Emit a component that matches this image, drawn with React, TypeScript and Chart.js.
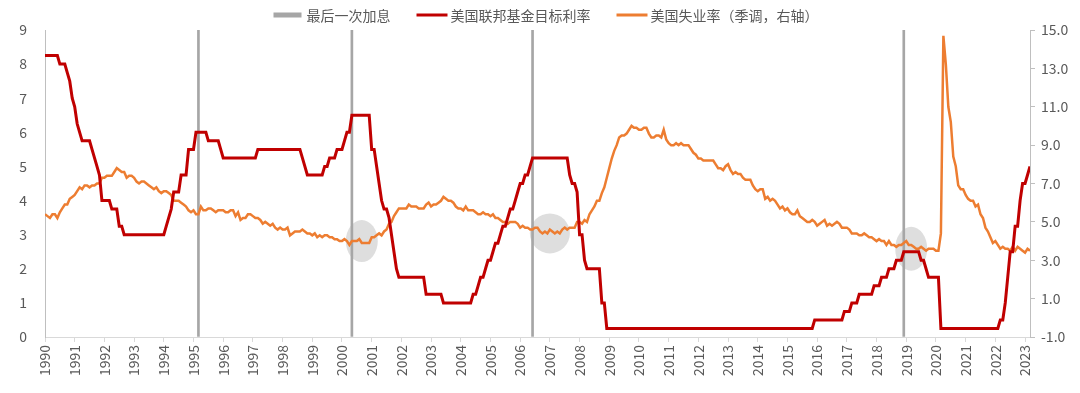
import React, { useEffect, useRef } from 'react';
import { Chart, registerables } from 'chart.js';

Chart.register(...registerables);

// ---------- data ----------
const yearLabels = [
  '1990', '1991', '1992', '1993', '1994', '1995', '1996', '1997', '1998', '1999',
  '2000', '2001', '2002', '2003', '2004', '2005', '2006', '2007', '2008', '2009',
  '2010', '2011', '2012', '2013', '2014', '2015', '2016', '2017', '2018', '2019',
  '2020', '2021', '2022', '2023',
];

// US unemployment rate, seasonally adjusted, monthly from 1990-01 to 2023-03 (right axis)
const unemploymentRate = [
  5.4, 5.3, 5.2, 5.4, 5.4, 5.2, 5.5, 5.7, 5.9, 5.9, 6.2, 6.3,
  6.4, 6.6, 6.8, 6.7, 6.9, 6.9, 6.8, 6.9, 6.9, 7.0, 7.0, 7.3,
  7.3, 7.4, 7.4, 7.4, 7.6, 7.8, 7.7, 7.6, 7.6, 7.3, 7.4, 7.4,
  7.3, 7.1, 7.0, 7.1, 7.1, 7.0, 6.9, 6.8, 6.7, 6.8, 6.6, 6.5,
  6.6, 6.6, 6.5, 6.4, 6.1, 6.1, 6.1, 6.0, 5.9, 5.8, 5.6, 5.5,
  5.6, 5.4, 5.4, 5.8, 5.6, 5.6, 5.7, 5.7, 5.6, 5.5, 5.6, 5.6,
  5.6, 5.5, 5.5, 5.6, 5.6, 5.3, 5.5, 5.1, 5.2, 5.2, 5.4, 5.4,
  5.3, 5.2, 5.2, 5.1, 4.9, 5.0, 4.9, 4.8, 4.9, 4.7, 4.6, 4.7,
  4.6, 4.6, 4.7, 4.3, 4.4, 4.5, 4.5, 4.5, 4.6, 4.5, 4.4, 4.4,
  4.3, 4.4, 4.2, 4.3, 4.2, 4.3, 4.3, 4.2, 4.2, 4.1, 4.1, 4.0,
  4.0, 4.1, 4.0, 3.8, 4.0, 4.0, 4.0, 4.1, 3.9, 3.9, 3.9, 3.9,
  4.2, 4.2, 4.3, 4.4, 4.3, 4.5, 4.6, 4.9, 5.0, 5.3, 5.5, 5.7,
  5.7, 5.7, 5.7, 5.9, 5.8, 5.8, 5.8, 5.7, 5.7, 5.7, 5.9, 6.0,
  5.8, 5.9, 5.9, 6.0, 6.1, 6.3, 6.2, 6.1, 6.1, 6.0, 5.8, 5.7,
  5.7, 5.6, 5.8, 5.6, 5.6, 5.6, 5.5, 5.4, 5.4, 5.5, 5.4, 5.4,
  5.3, 5.4, 5.2, 5.2, 5.1, 5.0, 5.0, 4.9, 5.0, 5.0, 5.0, 4.9,
  4.7, 4.8, 4.7, 4.7, 4.6, 4.6, 4.7, 4.7, 4.5, 4.4, 4.5, 4.4,
  4.6, 4.5, 4.4, 4.5, 4.4, 4.6, 4.7, 4.6, 4.7, 4.7, 4.7, 5.0,
  5.0, 4.9, 5.1, 5.0, 5.4, 5.6, 5.8, 6.1, 6.1, 6.5, 6.8, 7.3,
  7.8, 8.3, 8.7, 9.0, 9.4, 9.5, 9.5, 9.6, 9.8, 10.0, 9.9, 9.9,
  9.8, 9.8, 9.9, 9.9, 9.6, 9.4, 9.4, 9.5, 9.5, 9.4, 9.8, 9.3,
  9.1, 9.0, 9.0, 9.1, 9.0, 9.1, 9.0, 9.0, 9.0, 8.8, 8.6, 8.5,
  8.3, 8.3, 8.2, 8.2, 8.2, 8.2, 8.2, 8.0, 7.8, 7.8, 7.7, 7.9,
  8.0, 7.7, 7.5, 7.6, 7.5, 7.5, 7.3, 7.2, 7.2, 7.2, 6.9, 6.7,
  6.6, 6.7, 6.7, 6.2, 6.3, 6.1, 6.2, 6.1, 5.9, 5.7, 5.8, 5.6,
  5.7, 5.5, 5.4, 5.4, 5.6, 5.3, 5.2, 5.1, 5.0, 5.0, 5.1, 5.0,
  4.8, 4.9, 5.0, 5.1, 4.8, 4.9, 4.8, 4.9, 5.0, 4.9, 4.7, 4.7,
  4.7, 4.6, 4.4, 4.4, 4.4, 4.3, 4.3, 4.4, 4.3, 4.2, 4.2, 4.1,
  4.0, 4.1, 4.0, 4.0, 3.8, 4.0, 3.8, 3.8, 3.7, 3.8, 3.8, 3.9,
  4.0, 3.8, 3.8, 3.7, 3.6, 3.6, 3.7, 3.6, 3.5, 3.6, 3.6, 3.6,
  3.5, 3.5, 4.4, 14.7, 13.2, 11.0, 10.2, 8.4, 7.9, 6.9, 6.7, 6.7,
  6.4, 6.2, 6.1, 6.1, 5.8, 5.9, 5.4, 5.2, 4.7, 4.5, 4.2, 3.9,
  4.0, 3.8, 3.6, 3.7, 3.6, 3.6, 3.5, 3.7, 3.5, 3.7, 3.6, 3.5,
  3.4, 3.6, 3.5,
];

// Fed funds target rate (upper bound): month of each change and the new level (left axis)
const fedChangeMonths = [
  '1990-01', '1990-07', '1990-10', '1990-11', '1990-12', '1991-01', '1991-02', '1991-03',
  '1991-04', '1991-08', '1991-09', '1991-10', '1991-11', '1991-12', '1992-04', '1992-07',
  '1992-09', '1994-02', '1994-03', '1994-04', '1994-05', '1994-08', '1994-11', '1995-02',
  '1995-07', '1995-12', '1996-01', '1997-03', '1998-09', '1998-10', '1998-11', '1999-06',
  '1999-08', '1999-11', '2000-02', '2000-03', '2000-05', '2001-01', '2001-03', '2001-04',
  '2001-05', '2001-06', '2001-08', '2001-09', '2001-10', '2001-11', '2001-12', '2002-11',
  '2003-06', '2004-06', '2004-08', '2004-09', '2004-11', '2004-12', '2005-02', '2005-03',
  '2005-05', '2005-06', '2005-08', '2005-09', '2005-11', '2005-12', '2006-01', '2006-03',
  '2006-05', '2006-06', '2007-09', '2007-10', '2007-12', '2008-01', '2008-03', '2008-04',
  '2008-10', '2008-12', '2015-12', '2016-12', '2017-03', '2017-06', '2017-12', '2018-03',
  '2018-06', '2018-09', '2018-12', '2019-07', '2019-09', '2019-10', '2020-03', '2022-03',
  '2022-05', '2022-06', '2022-07', '2022-09', '2022-11', '2022-12', '2023-02', '2023-03',
];
const fedChangeValues = [
  8.25, 8.0, 7.75, 7.5, 7.0, 6.75, 6.25, 6.0,
  5.75, 5.5, 5.25, 5.0, 4.75, 4.0, 3.75, 3.25,
  3.0, 3.25, 3.5, 3.75, 4.25, 4.75, 5.5, 6.0,
  5.75, 5.5, 5.25, 5.5, 5.25, 5.0, 4.75, 5.0,
  5.25, 5.5, 5.75, 6.0, 6.5, 5.5, 5.0, 4.5,
  4.0, 3.75, 3.5, 3.0, 2.5, 2.0, 1.75, 1.25,
  1.0, 1.25, 1.5, 1.75, 2.0, 2.25, 2.5, 2.75,
  3.0, 3.25, 3.5, 3.75, 4.0, 4.25, 4.5, 4.75,
  5.0, 5.25, 4.75, 4.5, 4.25, 3.0, 2.25, 2.0,
  1.0, 0.25, 0.5, 0.75, 1.0, 1.25, 1.5, 1.75,
  2.0, 2.25, 2.5, 2.25, 2.0, 1.75, 0.25, 0.5,
  1.0, 1.75, 2.5, 3.25, 4.0, 4.5, 4.75, 5.0,
];

// Last hike of each cycle (grey vertical bars)
const lastHikeMonths = ['1995-03', '2000-05', '2006-06', '2018-12'];
const lastHikeHeight = 9;

// Grey highlight ellipses (centre month, unemployment level on right axis)
const highlightMonths = ['2000-09', '2007-01', '2019-03'];
const highlightValues = [4.0, 4.4, 3.6];

const seriesNames = ['最后一次加息', '美国联邦基金目标利率', '美国失业率（季调，右轴）'];

// ---------- styles ----------
const COLOR_HIKE = '#A6A6A6';
const COLOR_FED = '#C00000';
const COLOR_UNEMP = '#ED7D31';
const TEXT = '#595959';
const FONT = "'Noto Sans CJK SC', 'Noto Sans', sans-serif";
const HIGHLIGHT_RADII = [[16, 21], [20, 20], [16, 22]];

const monthIndex = (s: string) => {
  const [y, m] = s.split('-').map(Number);
  return (y - 1990) * 12 + (m - 1);
};

const highlightPlugin = {
  id: 'highlights',
  beforeDatasetsDraw(chart: any) {
    const { ctx, scales } = chart;
    const x = scales.x;
    const yR = scales.yR;
    ctx.save();
    ctx.fillStyle = 'rgba(205,205,205,0.65)';
    highlightMonths.forEach((m, i) => {
      const cx = x.getPixelForValue(monthIndex(m));
      const cy = yR.getPixelForValue(highlightValues[i]);
      const [rx, ry] = HIGHLIGHT_RADII[i];
      ctx.beginPath();
      ctx.ellipse(cx, cy, rx, ry, 0, 0, Math.PI * 2);
      ctx.fill();
    });
    ctx.restore();
  },
};

// Legend drawn on the canvas, Excel style (marker then text, wide gaps)
const legendPlugin = {
  id: 'excelLegend',
  afterDraw(chart: any) {
    const { ctx } = chart;
    const items = [
      { text: seriesNames[0], color: COLOR_HIKE, kind: 'rect', w: 28, gap: 5 },
      { text: seriesNames[1], color: COLOR_FED, kind: 'line', w: 31, gap: 3 },
      { text: seriesNames[2], color: COLOR_UNEMP, kind: 'line', w: 31, gap: 3 },
    ];
    const itemGap = 26;
    const cy = 15;
    ctx.save();
    ctx.font = `14px ${FONT}`;
    ctx.textBaseline = 'middle';
    ctx.textAlign = 'left';
    const widths = items.map((it) => it.w + it.gap + ctx.measureText(it.text).width);
    const total = widths.reduce((a, b) => a + b, 0) + itemGap * (items.length - 1);
    let x = 546 - total / 2;
    items.forEach((it, i) => {
      if (it.kind === 'rect') {
        ctx.fillStyle = it.color;
        ctx.fillRect(x, cy - 2.5, it.w, 5);
      } else {
        ctx.strokeStyle = it.color;
        ctx.lineWidth = 3;
        ctx.beginPath();
        ctx.moveTo(x, cy);
        ctx.lineTo(x + it.w, cy);
        ctx.stroke();
      }
      ctx.fillStyle = TEXT;
      ctx.fillText(it.text, x + it.w + it.gap, cy + 0.5);
      x += widths[i] + itemGap;
    });
    ctx.restore();
  },
};

export default function App() {
  const canvasRef = useRef<HTMLCanvasElement | null>(null);

  useEffect(() => {
    document.body.style.margin = '0';
    const canvas = canvasRef.current;
    if (!canvas) return;

    const fedPoints: { x: number; y: number }[] = [];
    let level = fedChangeValues[0];
    let ci = 0;
    for (let i = 0; i < unemploymentRate.length; i++) {
      while (ci < fedChangeMonths.length && monthIndex(fedChangeMonths[ci]) <= i) {
        level = fedChangeValues[ci];
        ci++;
      }
      fedPoints.push({ x: i, y: level });
    }
    const unempPoints = unemploymentRate.map((v, i) => ({ x: i, y: v }));
    const hikePoints = lastHikeMonths.map((m) => ({ x: monthIndex(m), y: lastHikeHeight }));
    const lastIndex = unemploymentRate.length - 1;

    const chart = new Chart(canvas, {
      type: 'line',
      data: {
        datasets: [
          {
            type: 'line',
            label: seriesNames[1],
            data: fedPoints,
            borderColor: COLOR_FED,
            backgroundColor: COLOR_FED,
            borderWidth: 3,
            pointRadius: 0,
            tension: 0,
            yAxisID: 'yL',
          },
          {
            type: 'line',
            label: seriesNames[2],
            data: unempPoints,
            borderColor: COLOR_UNEMP,
            backgroundColor: COLOR_UNEMP,
            borderWidth: 2.5,
            pointRadius: 0,
            tension: 0,
            yAxisID: 'yR',
          },
          {
            type: 'bar',
            label: seriesNames[0],
            data: hikePoints,
            backgroundColor: COLOR_HIKE,
            borderWidth: 0,
            barThickness: 2,
            yAxisID: 'yL',
          } as any,
        ],
      },
      options: {
        animation: false,
        responsive: true,
        maintainAspectRatio: false,
        layout: { padding: { top: 30, left: 0, right: 0, bottom: 0 } },
        plugins: {
          tooltip: { enabled: false },
          legend: { display: false },
        },
        scales: {
          x: {
            type: 'linear',
            min: 0,
            max: lastIndex,
            offset: false,
            afterBuildTicks: (scale: any) => {
              scale.ticks = yearLabels.map((_, i) => ({ value: i * 12 }));
            },
            afterFit: (scale: any) => {
              scale.height = 56;
            },
            grid: {
              drawOnChartArea: false,
              drawTicks: true,
              tickLength: 5,
              color: '#D9D9D9',
              offset: false,
            },
            border: { display: true, color: '#D9D9D9', width: 1 },
            ticks: {
              autoSkip: false,
              minRotation: 90,
              maxRotation: 90,
              padding: 3,
              color: TEXT,
              font: { family: FONT, size: 14 },
              callback: (v: any) => yearLabels[Math.round(Number(v) / 12)] ?? '',
            },
          },
          yL: {
            type: 'linear',
            position: 'left',
            min: 0,
            max: 9,
            afterFit: (scale: any) => {
              scale.width = 45;
            },
            grid: { drawOnChartArea: false, drawTicks: false },
            border: { display: true, color: '#BFBFBF', width: 1 },
            ticks: {
              stepSize: 1,
              padding: 18,
              color: TEXT,
              font: { family: FONT, size: 14 },
            },
          },
          yR: {
            type: 'linear',
            position: 'right',
            min: -1,
            max: 15,
            afterFit: (scale: any) => {
              scale.width = 50;
            },
            grid: { drawOnChartArea: false, drawTicks: true, tickLength: 5, color: '#BFBFBF' },
            border: { display: true, color: '#BFBFBF', width: 1 },
            ticks: {
              stepSize: 2,
              padding: 6,
              color: TEXT,
              font: { family: FONT, size: 14 },
              callback: (v: any) => Number(v).toFixed(1),
            },
          },
        },
      },
      plugins: [highlightPlugin, legendPlugin],
    } as any);

    return () => chart.destroy();
  }, []);

  return (
    <div style={{ position: 'relative', width: 1080, height: 393 }}>
      <canvas ref={canvasRef} />
    </div>
  );
}
